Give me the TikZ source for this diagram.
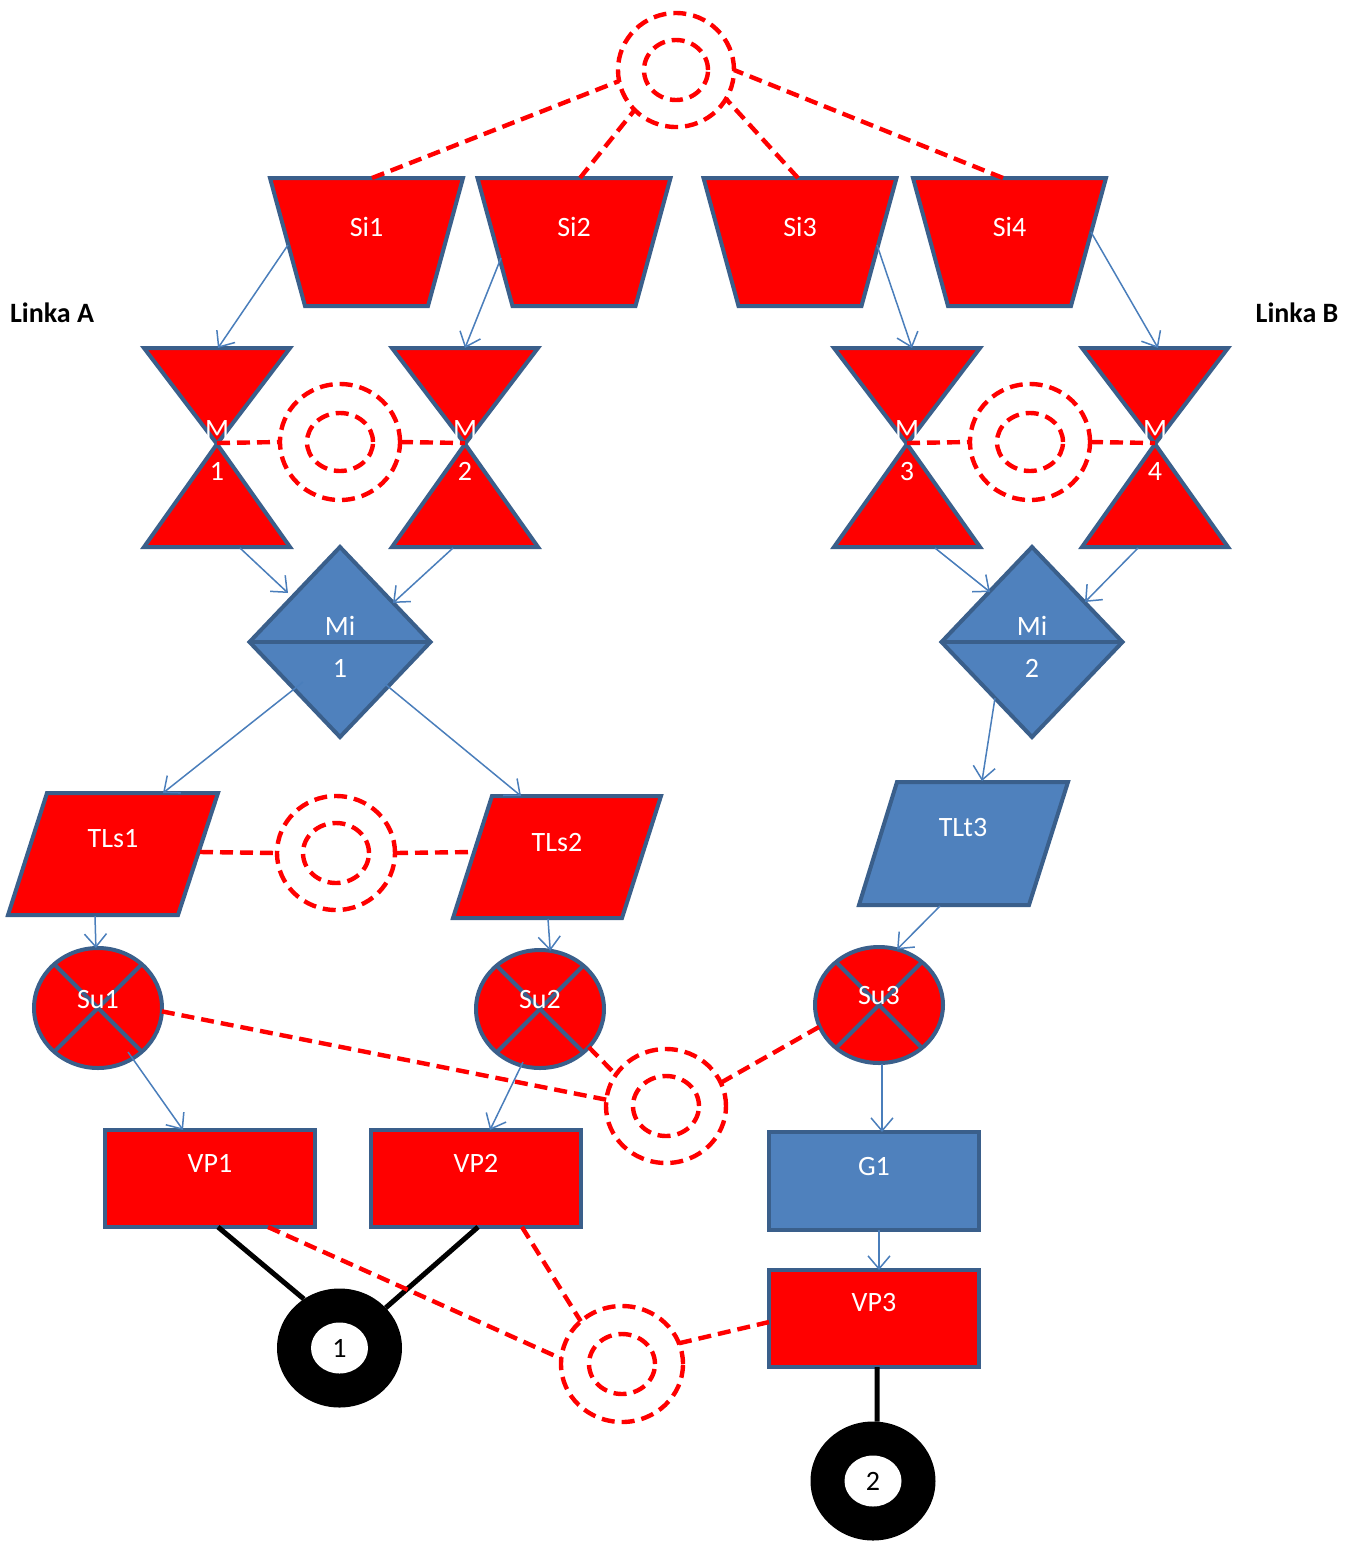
\documentclass[tikz,border=0pt]{standalone}
\usepackage{fontspec}
\setmainfont{Carlito}
\usetikzlibrary{arrows.meta,shapes.geometric}
\definecolor{bdr}{HTML}{3A5F8B}
\definecolor{bfill}{HTML}{4F81BD}
\definecolor{arr}{HTML}{4A7EBB}
\definecolor{rd}{HTML}{FF0000}
\newcommand\ringpair[7]{%
  \node[ringst,minimum width=#4pt,minimum height=#5pt] (#1) at (#2,#3) {};
  \node[ringst,minimum width=#6pt,minimum height=#7pt] (#1i) at (#2,#3) {};}
\begin{document}
\begin{tikzpicture}[x=0.5pt,y=-0.5pt,
  redshape/.style={fill=rd,draw=bdr,line width=2pt},
  blueshape/.style={fill=bfill,draw=bdr,line width=2pt},
  lbl/.style={text=white,font=\fontsize{14}{16}\selectfont,inner sep=0pt},
  flow/.style={draw=arr,line width=0.75pt,-{Straight Barb[length=6.5pt,width=11pt]}},
  link/.style={draw=rd,line width=2.2pt,dash pattern=on 6.5pt off 3.5pt},
  ringst/.style={ellipse,draw=rd,line width=2.2pt,dash pattern=on 6.5pt off 3.5pt,inner sep=0pt,outer sep=0pt},
  suc/.style={ellipse,fill=rd,draw=bdr,line width=2pt,inner sep=0pt,outer sep=0pt,minimum width=64pt},
  box/.style={rectangle,inner sep=0pt,outer sep=0pt,minimum width=105pt},
  blk/.style={line width=2.5pt,draw=black},
  kring/.style={ellipse,fill=black,inner sep=0pt,outer sep=0pt,minimum width=62.5pt,minimum height=59.5pt},
  kin/.style={ellipse,fill=white,inner sep=0pt,outer sep=0pt,minimum width=28.5pt,minimum height=25.5pt,font=\fontsize{14}{16}\selectfont},
  side/.style={font=\bfseries\fontsize{14}{16}\selectfont,inner sep=0pt}]
\useasboundingbox (0,0) rectangle (1360,1544);

% side labels
\node[side] (linkaA) at (52,313) {Linka A};
\node[side] (linkaB) at (1297,313) {Linka B};

% Si trapezoids
\foreach \n/\c in {1/366.5,2/574,3/800,4/1009.5}{
  \draw[redshape] (\c-96.5,178) -- (\c+96.5,178) -- (\c+61.5,306) -- (\c-61.5,306) -- cycle;
  \node[lbl] (si\n) at (\c,227) {Si\n};
}
% hourglasses
\foreach \n/\c in {1/217,2/465,3/907,4/1155}{
  \draw[redshape] (\c-73,348) -- (\c+73,348) -- (\c,444) -- cycle;
  \draw[redshape] (\c,444) -- (\c+73,547) -- (\c-73,547) -- cycle;
  \coordinate (m\n) at (\c,443);
}
% diamonds
\foreach \n/\c in {1/340,2/1032}{
  \draw[blueshape] (\c,547) -- (\c+90.5,642) -- (\c,737) -- (\c-90.5,642) -- cycle;
  \draw[draw=bdr,line width=2pt] (\c-90.5,642) -- (\c+90.5,642);
  \node[lbl] (mi\n) at (\c,626) {Mi};
  \node[lbl] (min\n) at (\c,668) {\n};
}
% parallelograms
\draw[redshape] (47,793) -- (218,793) -- (178,915) -- (8,915) -- cycle;
\node[lbl] (tls1) at (113,839) {TLs1};
\draw[redshape] (492,796) -- (661,796) -- (622,918) -- (453,918) -- cycle;
\node[lbl] (tls2) at (557,843) {TLs2};
\draw[blueshape] (897,782) -- (1068,782) -- (1029,905) -- (859,905) -- cycle;
\node[lbl] (tlt3) at (963,828) {TLt3};

% Su circles
\node[suc,minimum height=60pt] (su1) at (98,1008) {};
\node[suc,minimum height=59pt] (su2) at (540,1009) {};
\node[suc,minimum height=58pt] (su3) at (879,1005) {};
\foreach \s in {su1,su2,su3}{
  \draw[draw=bdr,line width=2pt] (\s.45) -- (\s.225) (\s.135) -- (\s.315);
}
\node[lbl] (su1t) at (98,1000) {Su1};
\node[lbl] (su2t) at (540,1000) {Su2};
\node[lbl] (su3t) at (879,996) {Su3};

% boxes
\node[box,redshape,minimum height=48.5pt] (vp1) at (210,1178.5) {};
\node[lbl] (vp1t) at (210,1163) {VP1};
\node[box,redshape,minimum height=48.5pt] (vp2) at (476,1178.5) {};
\node[lbl] (vp2t) at (476,1163) {VP2};
\node[box,blueshape,minimum height=49pt] (g1) at (874,1181) {};
\node[lbl] (g1t) at (874,1166) {G1};
\node[box,redshape,minimum height=48.5pt] (vp3) at (874,1318.5) {};
\node[lbl] (vp3t) at (874,1302) {VP3};

% black terminal circles
\node[kring] (k1) at (339.5,1348) {};
\node[kin] (k1t) at (339.5,1348) {1};
\node[kring] (k2) at (873,1481) {};
\node[kin] (k2t) at (873,1481) {2};

% rings
\ringpair{r0}{676}{70}{58}{57}{32}{30}
\ringpair{r1}{340}{442}{60}{58}{33}{29}
\ringpair{r2}{1030}{442}{60}{58}{33}{29}
\ringpair{r3}{336}{853}{59}{57}{33}{30}
\ringpair{r4}{666}{1106}{60}{57}{33}{30}
\ringpair{r5}{622}{1364}{61}{58}{33}{30}

% connector end points
\coordinate (si1a) at (372,178);
\coordinate (si2a) at (580,178);
\coordinate (si3a) at (798,178);
\coordinate (si4a) at (1003,178);
\coordinate (si1o) at (288,245);  \coordinate (m1in) at (218,348);
\coordinate (si2o) at (501,258);  \coordinate (m2in) at (465,348);
\coordinate (si3o) at (877,245);  \coordinate (m3in) at (912,348);
\coordinate (si4o) at (1091,232); \coordinate (m4in) at (1158,348);
\coordinate (m1o) at (240,548);   \coordinate (mi1a) at (288,593);
\coordinate (m2o) at (453,548);   \coordinate (mi1b) at (393,603);
\coordinate (m3o) at (935,548);   \coordinate (mi2a) at (990,592);
\coordinate (m4o) at (1138,548);  \coordinate (mi2b) at (1085,602);
\coordinate (mi1c) at (303,682);  \coordinate (tls1in) at (163,793);
\coordinate (mi1d) at (385,684);  \coordinate (tls2in) at (521,796);
\coordinate (mi2c) at (995,698);  \coordinate (tlt3in) at (982,781);
\coordinate (tls1o) at (95,916);
\coordinate (tls2o) at (548,919);
\coordinate (tlt3o) at (940,906);
\coordinate (su1o) at (128,1052); \coordinate (vp1in) at (183,1130);
\coordinate (su2o) at (523,1062); \coordinate (vp2in) at (490,1130);
\coordinate (su3o) at (882,1064); \coordinate (g1in) at (882,1132);
\coordinate (g1o) at (879,1230);  \coordinate (vp3in) at (879,1270);
\coordinate (tls1r) at (200,852); \coordinate (tls2l) at (474,852);
\coordinate (vp1a) at (268,1227); \coordinate (vp2a) at (522,1227);
\coordinate (vp3l) at (769,1322);
\coordinate (vp1b) at (218,1227); \coordinate (vp2b) at (478,1227);
\coordinate (vp3b) at (877,1367);

% black lines
\draw[blk] (vp1b) -- (k1.126);
\draw[blk] (vp2b) -- (k1.41);
\draw[blk] (vp3b) -- (k2.86);

% dashed links
\draw[link] (si1a) -- (r0.191);
\draw[link] (si2a) -- (r0.224);
\draw[link] (si3a) -- (r0.330);
\draw[link] (si4a) -- (r0.east);
\draw[link] (m1) -- (r1.west);
\draw[link] (r1.east) -- (m2);
\draw[link] (m3) -- (r2.west);
\draw[link] (r2.east) -- (m4);
\draw[link] (tls1r) -- (r3.west);
\draw[link] (r3.east) -- (tls2l);
\draw[link] (su1.-3) -- (r4.174);
\draw[link] (su2.-38) -- (r4.148);
\draw[link] (r4.23) -- (su3.200);
\draw[link] (vp1a) -- (r5.175);
\draw[link] (vp2a) -- (r5.134);
\draw[link] (r5.20) -- (vp3l);

% M labels (on top of links)
\foreach \n/\c in {1/217,2/465,3/907,4/1155}{
  \node[lbl] (mt\n) at (\c,430) {M};
  \node[lbl] (mn\n) at (\c,471) {\n};
}

% flow arrows
\draw[flow] (si1o) -- (m1in);
\draw[flow] (si2o) -- (m2in);
\draw[flow] (si3o) -- (m3in);
\draw[flow] (si4o) -- (m4in);
\draw[flow] (m1o) -- (mi1a);
\draw[flow] (m2o) -- (mi1b);
\draw[flow] (m3o) -- (mi2a);
\draw[flow] (m4o) -- (mi2b);
\draw[flow] (mi1c) -- (tls1in);
\draw[flow] (mi1d) -- (tls2in);
\draw[flow] (mi2c) -- (tlt3in);
\draw[flow] (tls1o) -- (su1.92);
\draw[flow] (tls2o) -- (su2.80);
\draw[flow] (tlt3o) -- (su3.72);
\draw[flow] (su1o) -- (vp1in);
\draw[flow] (su2o) -- (vp2in);
\draw[flow] (su3o) -- (g1in);
\draw[flow] (g1o) -- (vp3in);
\end{tikzpicture}
\end{document}
